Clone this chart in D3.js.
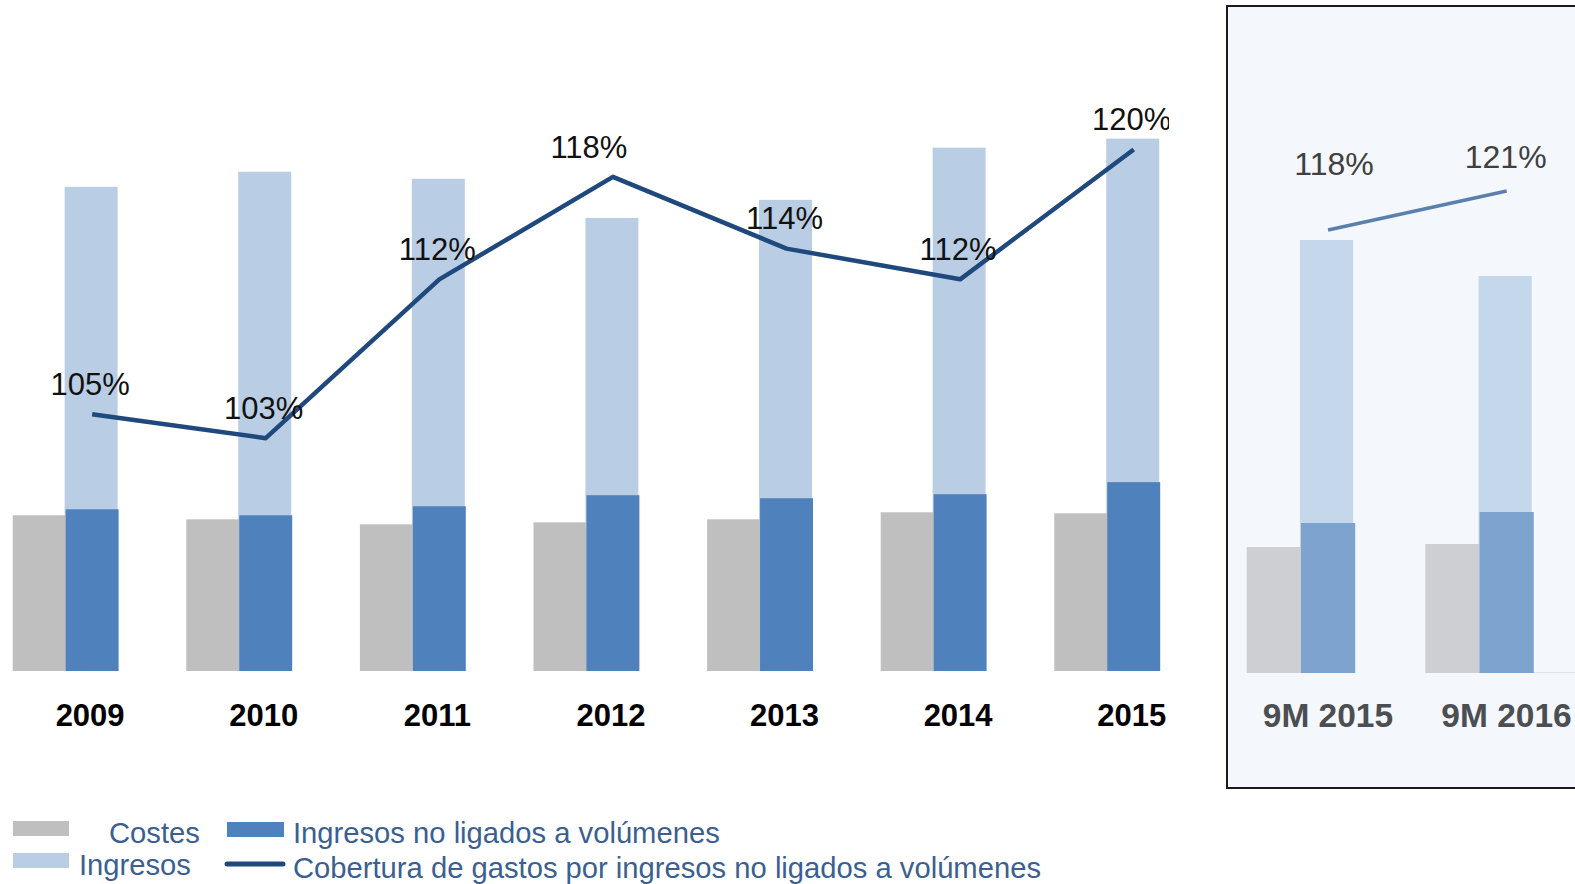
<!DOCTYPE html>
<html>
<head>
<meta charset="utf-8">
<script src="https://cdn.jsdelivr.net/npm/d3@7"></script>
<style>
  body { margin: 0; background: #fff; }
  svg { display: block; font-family: "Liberation Sans", Arial, sans-serif; }
</style>
</head>
<body>
<div id="chart"></div>
<script>
// Annual data
const years = ['2009', '2010', '2011', '2012', '2013', '2014', '2015'];
const costes = [155, 151, 146, 148, 151, 158, 157];
const ingresos = [482, 497, 490, 451, 469, 521, 530];
const ingresosNoLigados = [161, 155, 164, 175, 172, 176, 188];
const cobertura = [104.1, 102.7, 112.0, 118.0, 113.8, 112.0, 119.6];
const coberturaLabels = ['105%', '103%', '112%', '118%', '114%', '112%', '120%'];

// Nine-month data
const periods = ['9M 2015', '9M 2016'];
const costes9M = [126, 129];
const ingresos9M = [433, 397];
const ingresosNoLigados9M = [150, 161];
const cobertura9M = [118, 121];

// Legend texts
const legendLeft = ['Costes', 'Ingresos'];
const legendRight = ['Ingresos no ligados a volúmenes', 'Cobertura de gastos por ingresos no ligados a volúmenes'];

const colors = {
    costes: '#bfbfbf',
    ingresos: '#b9cde5',
    noLigados: '#4f81bd',
    line: '#1f497d',
    costes9M: '#cdcfd3',
    ingresos9M: '#c5d7ea',
    noLigados9M: '#7ea3cf',
    line9M: '#5b80ad'
};

const W = 1575, H = 884;

const svg = d3.select('#chart')
    .append('svg')
    .attr('width', W)
    .attr('height', H);

// ---------- left chart (annual) ----------
const baseY = 671;

const x0 = d3.scaleBand()
    .domain(years)
    .range([12.7, 12.7 + 173.6 * (7 - 0.39)])
    .paddingInner(0.39)
    .paddingOuter(0);

const x1 = d3.scaleBand()
    .domain(['c', 'i'])
    .range([0, x0.bandwidth()]);

const y = d3.scaleLinear()
    .domain([0, 600])
    .range([baseY, baseY - 602.7]);

const yLine = d3.scaleLinear()
    .domain([100, 120])
    .range([484.3, 142.7]);

svg.append('clipPath')
    .attr('id', 'leftClip')
    .append('rect')
    .attr('x', 0).attr('y', 0)
    .attr('width', 1169).attr('height', H);

const left = svg.append('g').attr('clip-path', 'url(#leftClip)');

const annual = years.map((yr, i) => ({
    year: yr,
    costes: costes[i],
    ingresos: ingresos[i],
    noLigados: ingresosNoLigados[i],
    cobertura: cobertura[i],
    label: coberturaLabels[i]
}));

const blueCenter = d => x0(d.year) + x1('i') + x1.bandwidth() / 2;

// light bars (total ingresos) behind
left.selectAll('rect.ingresos')
    .data(annual)
    .enter()
    .append('rect')
    .attr('class', 'ingresos')
    .attr('x', d => x0(d.year) + x1('i') - 1)
    .attr('y', d => y(d.ingresos))
    .attr('width', x1.bandwidth())
    .attr('height', d => baseY - y(d.ingresos))
    .attr('fill', colors.ingresos);

left.selectAll('rect.costes')
    .data(annual)
    .enter()
    .append('rect')
    .attr('class', 'costes')
    .attr('x', d => x0(d.year) + x1('c'))
    .attr('y', d => y(d.costes))
    .attr('width', x1.bandwidth())
    .attr('height', d => baseY - y(d.costes))
    .attr('fill', colors.costes);

left.selectAll('rect.noligados')
    .data(annual)
    .enter()
    .append('rect')
    .attr('class', 'noligados')
    .attr('x', d => x0(d.year) + x1('i'))
    .attr('y', d => y(d.noLigados))
    .attr('width', x1.bandwidth())
    .attr('height', d => baseY - y(d.noLigados))
    .attr('fill', colors.noLigados);

// coverage line
const line = d3.line()
    .x(d => blueCenter(d))
    .y(d => yLine(d.cobertura));

left.append('path')
    .datum(annual)
    .attr('d', line)
    .attr('fill', 'none')
    .attr('stroke', colors.line)
    .attr('stroke-width', 4.5)
    .attr('stroke-linejoin', 'round');

left.selectAll('text.pct')
    .data(annual)
    .enter()
    .append('text')
    .attr('class', 'pct')
    .attr('x', d => blueCenter(d) - (d.year === '2012' ? 24 : 2))
    .attr('y', d => yLine(d.cobertura) - 30)
    .attr('dy', '0.35em')
    .attr('text-anchor', 'middle')
    .attr('font-size', 31)
    .attr('fill', '#111')
    .text(d => d.label);

// year labels
svg.selectAll('text.year')
    .data(annual)
    .enter()
    .append('text')
    .attr('class', 'year')
    .attr('x', d => blueCenter(d) - 2)
    .attr('y', 715)
    .attr('dy', '0.35em')
    .attr('text-anchor', 'middle')
    .attr('font-size', 31)
    .attr('font-weight', 'bold')
    .attr('fill', '#000')
    .text(d => d.year);

// ---------- right panel (9M) ----------
const panel = svg.append('g');

panel.append('rect')
    .attr('x', 1227)
    .attr('y', 6)
    .attr('width', 400)
    .attr('height', 782)
    .attr('fill', '#f4f7fb')
    .attr('stroke', '#1a1a1a')
    .attr('stroke-width', 2);

const baseY9 = 673;

const px0 = d3.scaleBand()
    .domain(periods)
    .range([1246.7, 1246.7 + 178.6 * (2 - 0.3925)])
    .paddingInner(0.3925)
    .paddingOuter(0);

const px1 = d3.scaleBand()
    .domain(['c', 'i'])
    .range([0, px0.bandwidth()]);

const py = d3.scaleLinear()
    .domain([0, 600])
    .range([baseY9, baseY9 - 600]);

const pyLine = d3.scaleLinear()
    .domain([118, 121])
    .range([230, 191]);

const nine = periods.map((p, i) => ({
    period: p,
    costes: costes9M[i],
    ingresos: ingresos9M[i],
    noLigados: ingresosNoLigados9M[i],
    cobertura: cobertura9M[i]
}));

const pBlueCenter = d => px0(d.period) + px1('i') + px1.bandwidth() / 2;

// faint baseline to the right
panel.append('line')
    .attr('x1', px0(periods[1]) + px0.bandwidth())
    .attr('x2', W)
    .attr('y1', baseY9 - 0.5)
    .attr('y2', baseY9 - 0.5)
    .attr('stroke', '#dde3ea')
    .attr('stroke-width', 1);

panel.selectAll('rect.ingresos')
    .data(nine)
    .enter()
    .append('rect')
    .attr('x', d => px0(d.period) + px1('i') - 1)
    .attr('y', d => py(d.ingresos))
    .attr('width', px1.bandwidth() - 1)
    .attr('height', d => baseY9 - py(d.ingresos))
    .attr('fill', colors.ingresos9M);

panel.selectAll('rect.costes')
    .data(nine)
    .enter()
    .append('rect')
    .attr('x', d => px0(d.period) + px1('c'))
    .attr('y', d => py(d.costes))
    .attr('width', px1.bandwidth())
    .attr('height', d => baseY9 - py(d.costes))
    .attr('fill', colors.costes9M);

panel.selectAll('rect.noligados')
    .data(nine)
    .enter()
    .append('rect')
    .attr('x', d => px0(d.period) + px1('i'))
    .attr('y', d => py(d.noLigados))
    .attr('width', px1.bandwidth())
    .attr('height', d => baseY9 - py(d.noLigados))
    .attr('fill', colors.noLigados9M);

panel.append('path')
    .datum(nine)
    .attr('d', d3.line().x(d => pBlueCenter(d)).y(d => pyLine(d.cobertura)))
    .attr('fill', 'none')
    .attr('stroke', colors.line9M)
    .attr('stroke-width', 3.5);

panel.selectAll('text.pct')
    .data(nine)
    .enter()
    .append('text')
    .attr('x', (d, i) => pBlueCenter(d) + (i === 0 ? 6 : -1))
    .attr('y', (d, i) => i === 0 ? 164 : 157)
    .attr('dy', '0.35em')
    .attr('text-anchor', 'middle')
    .attr('font-size', 32)
    .attr('fill', '#404040')
    .text(d => d.cobertura + '%');

panel.selectAll('text.period')
    .data(nine)
    .enter()
    .append('text')
    .attr('x', d => px0(d.period) + px0.bandwidth() / 2 + 27)
    .attr('y', 715)
    .attr('dy', '0.35em')
    .attr('text-anchor', 'middle')
    .attr('font-size', 33.5)
    .attr('font-weight', 'bold')
    .attr('fill', '#4b4e53')
    .text(d => d.period);

// ---------- legend ----------
const legend = svg.append('g');
const legendColor = '#3b5f91';

legend.append('rect').attr('x', 13).attr('y', 821).attr('width', 56).attr('height', 15).attr('fill', colors.costes);
legend.append('rect').attr('x', 13).attr('y', 853).attr('width', 56).attr('height', 15).attr('fill', colors.ingresos);
legend.append('rect').attr('x', 227).attr('y', 822).attr('width', 57).attr('height', 15).attr('fill', colors.noLigados);
legend.append('line')
    .attr('x1', 227).attr('x2', 283)
    .attr('y1', 864).attr('y2', 864)
    .attr('stroke', colors.line)
    .attr('stroke-width', 5)
    .attr('stroke-linecap', 'round');

legend.selectAll('text.l')
    .data(legendLeft)
    .enter()
    .append('text')
    .attr('x', (d, i) => i === 0 ? 109 : 79)
    .attr('y', (d, i) => i === 0 ? 833 : 865)
    .attr('dy', '0.35em')
    .attr('font-size', 29.2)
    .attr('fill', legendColor)
    .text(d => d);

legend.selectAll('text.r')
    .data(legendRight)
    .enter()
    .append('text')
    .attr('x', 293)
    .attr('y', (d, i) => i === 0 ? 833 : 868)
    .attr('dy', '0.35em')
    .attr('font-size', 29.2)
    .attr('fill', legendColor)
    .text(d => d);
</script>
</body>
</html>
